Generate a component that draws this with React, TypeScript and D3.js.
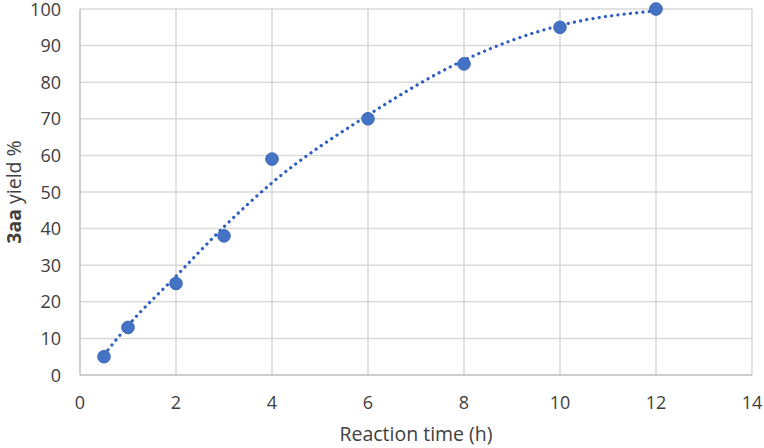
import { useEffect, useRef } from "react";
import * as d3 from "d3";

// measured yields
const times = [0.5, 1, 2, 3, 4, 6, 8, 10, 12];
const yields = [5, 13, 25, 38, 59, 70, 85, 95, 100];

// trendline
const trendTimes = [0.5, 1, 2, 3, 4, 6, 8, 10, 12];
const trendYields = [5.5, 13.5, 27, 40.5, 52.5, 71, 86, 95.5, 99.5];

const xTicks = [0, 2, 4, 6, 8, 10, 12, 14];
const yTicks = [0, 10, 20, 30, 40, 50, 60, 70, 80, 90, 100];

const W = 764;
const H = 448;

export default function App() {
  const svgRef = useRef<SVGSVGElement>(null);

  useEffect(() => {
    if (!svgRef.current) return;
    const margin = { top: 9, right: 12, bottom: 73, left: 80 };
    const iw = W - margin.left - margin.right;
    const ih = H - margin.top - margin.bottom;

    const svg = d3.select(svgRef.current);
    svg.selectAll("*").remove();
    const g = svg.append("g").attr("transform", `translate(${margin.left},${margin.top})`);

    const x = d3.scaleLinear().domain([0, 14]).range([0, iw]);
    const y = d3.scaleLinear().domain([0, 100]).range([ih, 0]);

    const font = "'Open Sans', sans-serif";
    const ink = "#404040";

    // grid
    g.append("g").selectAll("line").data(yTicks.slice(1)).join("line")
      .attr("x1", 0).attr("x2", iw)
      .attr("y1", (d) => y(d)).attr("y2", (d) => y(d))
      .attr("stroke", "#d9d9d9").attr("stroke-width", 1.5);
    g.append("g").selectAll("line").data(xTicks.slice(1)).join("line")
      .attr("x1", (d) => x(d)).attr("x2", (d) => x(d))
      .attr("y1", 0).attr("y2", ih)
      .attr("stroke", "#d9d9d9").attr("stroke-width", 1.5);

    // axis lines
    g.append("line").attr("x1", 0).attr("x2", iw).attr("y1", ih).attr("y2", ih)
      .attr("stroke", "#bfbfbf").attr("stroke-width", 1.5);
    g.append("line").attr("x1", 0).attr("x2", 0).attr("y1", 0).attr("y2", ih)
      .attr("stroke", "#bfbfbf").attr("stroke-width", 1.5);

    // tick labels
    g.append("g").selectAll("text").data(xTicks).join("text")
      .attr("x", (d) => x(d)).attr("y", ih + 34)
      .attr("text-anchor", "middle")
      .attr("font-family", font).attr("font-size", 18).attr("fill", ink)
      .text((d) => d);
    g.append("g").selectAll("text").data(yTicks).join("text")
      .attr("x", -19).attr("y", (d) => y(d) + 6.5)
      .attr("text-anchor", "end")
      .attr("font-family", font).attr("font-size", 18).attr("fill", ink)
      .text((d) => d);

    // axis titles
    g.append("text")
      .attr("x", iw / 2).attr("y", ih + 66)
      .attr("text-anchor", "middle")
      .attr("font-family", font).attr("font-size", 19.5).attr("fill", ink)
      .text("Reaction time (h)");

    const yl = g.append("text")
      .attr("transform", `translate(-59,${ih / 2}) rotate(-90)`)
      .attr("text-anchor", "middle")
      .attr("font-family", font).attr("font-size", 19.5).attr("fill", ink);
    yl.append("tspan").attr("font-weight", "bold").text("3aa");
    yl.append("tspan").text(" yield %");

    // trendline
    const trend = trendTimes.map((t, i) => [t, trendYields[i]] as [number, number]);
    const line = d3.line<[number, number]>()
      .x((d) => x(d[0])).y((d) => y(d[1]))
      .curve(d3.curveMonotoneX);
    g.append("path")
      .datum(trend)
      .attr("d", line)
      .attr("fill", "none")
      .attr("stroke", "#2f5fc2")
      .attr("stroke-width", 3.2)
      .attr("stroke-linecap", "round")
      .attr("stroke-dasharray", "0.1,6.2");

    // points
    g.append("g").selectAll("circle").data(times).join("circle")
      .attr("cx", (d) => x(d))
      .attr("cy", (_d, i) => y(yields[i]))
      .attr("r", 6.3)
      .attr("fill", "#4472c4")
      .attr("stroke", "#3b66b5").attr("stroke-width", 1);
  }, []);

  return (
    <div style={{ position: "absolute", left: 0, top: 0 }}>
      <svg ref={svgRef} width={W} height={H} style={{ display: "block", background: "#fff" }} />
    </div>
  );
}
